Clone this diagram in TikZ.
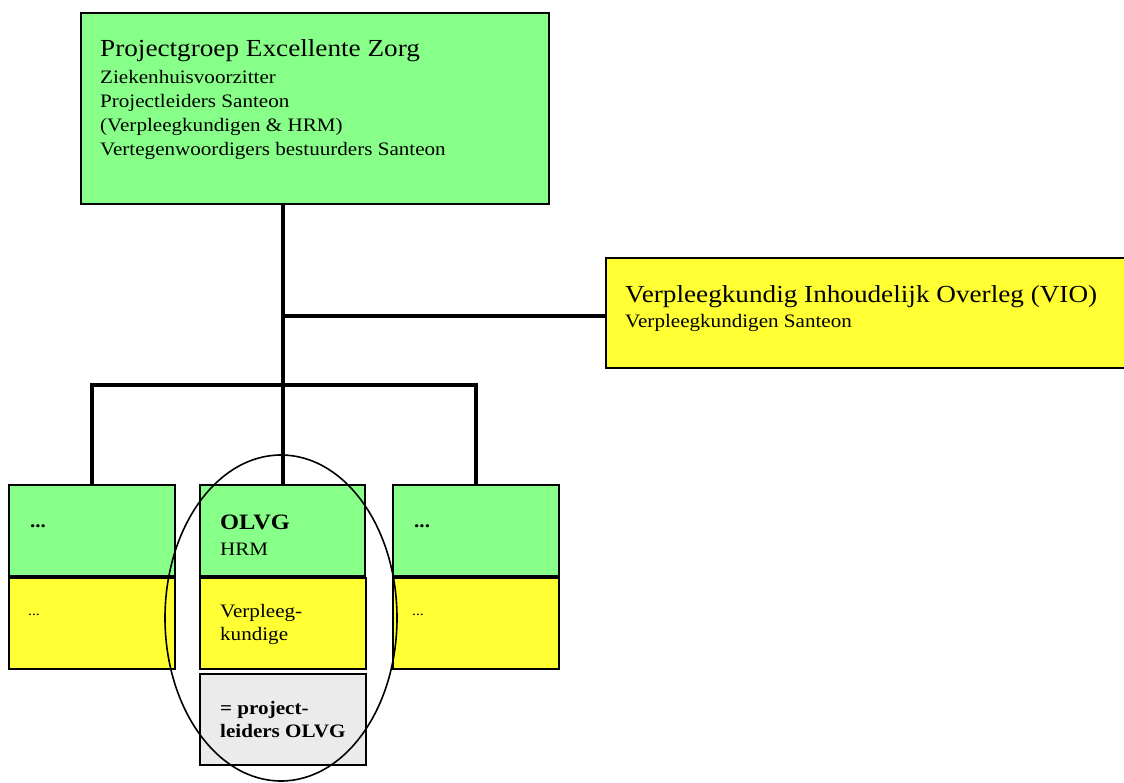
\documentclass[tikz,border=0pt]{standalone}
\usepackage{fontspec}
\setmainfont{Liberation Serif}[FakeStretch=1.11]
\usetikzlibrary{positioning}

\definecolor{boxgreen}{RGB}{136,255,136}
\definecolor{boxyellow}{RGB}{255,255,51}
\definecolor{boxgray}{RGB}{235,235,235}

\tikzset{
	box/.style={draw=black, line width=2pt, inner sep=0pt, anchor=north west},
	greenbox/.style={box, fill=boxgreen},
	yellowbox/.style={box, fill=boxyellow},
	graybox/.style={box, fill=boxgray},
	cellbox/.style={minimum width=166pt, minimum height=91pt},
	link/.style={line width=4pt},
	boxtext/.style={inner sep=0pt, anchor=base west, align=left},
	bigfont/.style={font=\fontsize{24.5}{30}\selectfont},
	smallfont/.style={font=\fontsize{19}{24.3}\selectfont},
	boldfont/.style={font=\fontsize{19}{23}\selectfont\bfseries},
	tinyfont/.style={font=\fontsize{14}{17}\selectfont},
}

\begin{document}
\begin{tikzpicture}[x=1pt, y=-1pt]
	\useasboundingbox (0,0) rectangle (1124,783);

	% boxes
	\node[greenbox, minimum width=468pt, minimum height=191pt] (proj) at (80,12) {};
	\node[yellowbox, minimum width=522pt, minimum height=110pt] (vio) at (605,257) {};

	\node[greenbox, cellbox] (left) at (8,484) {};
	\node[yellowbox, cellbox] (lefty) at (left.south west) {};
	\node[greenbox, cellbox, minimum width=165pt] (mid) at (199,484) {};
	\node[yellowbox, cellbox] (midy) at (mid.south west) {};
	\node[graybox, cellbox] (midg) at ([yshift=-3pt]midy.south west) {};
	\node[greenbox, cellbox] (right) at (392,484) {};
	\node[yellowbox, cellbox] (righty) at (right.south west) {};

	% texts (multi-line nodes sit on their last line)
	\node[boxtext, bigfont] (projtitle) at ([shift={(20,45)}]proj.north west) {Projectgroep Excellente Zorg};
	\node[boxtext, smallfont] (projsub) at ([shift={(20,144)}]proj.north west)
		{Ziekenhuisvoorzitter\\Projectleiders Santeon\\(Verpleegkundigen \& HRM)\\Vertegenwoordigers bestuurders Santeon};
	\node[boxtext, bigfont] (viotitle) at ([shift={(20,46)}]vio.north west) {Verpleegkundig Inhoudelijk Overleg (VIO)};
	\node[boxtext, smallfont] (viosub) at ([shift={(20,71)}]vio.north west) {Verpleegkundigen Santeon};

	\node[boxtext, boldfont] (lefttext) at ([shift={(22,43)}]left.north west) {...};
	\node[boxtext, tinyfont] (leftytext) at ([shift={(20,38)}]lefty.north west) {...};
	\node[boxtext, font=\fontsize{22}{26}\selectfont\bfseries] (midtitle) at ([shift={(21,45)}]mid.north west) {OLVG};
	\node[boxtext, smallfont] (midsub) at ([shift={(21,71)}]mid.north west) {HRM};
	\node[boxtext, font=\fontsize{19}{22.5}\selectfont] (midytext) at ([shift={(21,63)}]midy.north west) {Verpleeg-\\kundige};
	\node[boxtext, boldfont] (midgtext) at ([shift={(21,64)}]midg.north west) {= project-\\leiders OLVG};
	\node[boxtext, boldfont] (righttext) at ([shift={(22,43)}]right.north west) {...};
	\node[boxtext, tinyfont] (rightytext) at ([shift={(20,38)}]righty.north west) {...};

	% connectors
	\coordinate (hub) at (282,385);
	\draw[link] (proj.south -| mid.north) -- (mid.north);
	\draw[link] ([yshift=-3pt]vio.west -| mid.north) -- ([yshift=-3pt]vio.west);
	\draw[link] (left.north) -- (left.north |- hub) -- (right.north |- hub) -- (right.north);

	% highlight round OLVG
	\draw[line width=1.6pt] (281,618) ellipse [x radius=116, y radius=163];
\end{tikzpicture}
\end{document}
